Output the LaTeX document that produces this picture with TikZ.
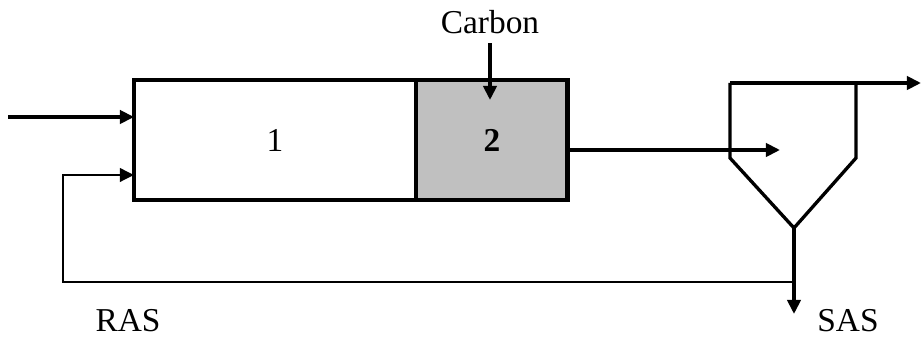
\documentclass[tikz,border=0pt]{standalone}
\usepackage{fontspec}
\setmainfont{Liberation Serif}
\usetikzlibrary{arrows.meta,
positioning}
\definecolor{anoxic}{HTML}{C0C0C0}

\begin{document}
\begin{tikzpicture}[
  x=0.02cm, y=-0.02cm,
  every node/.style={font=\fontsize{19}{22}\selectfont},
  flow/.style={line width=2pt, -{Triangle[length=8pt,width=7.5pt]}},
  tank/.style={draw, line width=2.8pt, outer sep=0pt, minimum height=2.4cm}
]
  \useasboundingbox (0,0) rectangle (921,340);

  \node [
    tank,
    minimum width = 5.64cm] (zone1) at (275,140) {1};
  \node [
    tank,
    fill=anoxic,
    minimum width = 3.04cm,
    anchor = west
  ] (zone2) at (zone1.east) {\textbf{2}};

  % settler
  \coordinate (st_tl) at (730,83);
  \coordinate (st_tr) at (856,83);
  \coordinate (st_bl) at (730,158);
  \coordinate (st_br) at (856,158);
  \coordinate (st_apex) at (794,228);
  \draw [line width=1.9pt, line join=miter] (st_tl) -- (st_bl) -- (st_apex) -- (st_br) -- (st_tr);

  \coordinate (feed) at (8,117);
  \coordinate (ras) at (63,175);
  \coordinate (split) at (794,282);
  \coordinate (inlet) at (780,150);
  \coordinate (effluent) at (921,83);
  \coordinate (waste) at (794,314);
  \coordinate (dose) at (490,100);

  \node (carbon) at (490,22) {Carbon};
  \node (ras_lb) at (128,321) {RAS};
  \node (sas_lb) at (848,321) {SAS};

  \draw [flow] (feed) -- (feed -| zone1.west);
  \draw [flow, line width=1.7pt] (split) -| (ras) -- (ras -| zone1.west);
  \draw [flow] ([yshift=-2pt]carbon.south) -- (dose);
  \draw [flow] (inlet -| zone2.east) -- (inlet);
  \draw [flow] (st_tl) -- (effluent);
  \draw [flow] (st_apex) -- (waste);

\end{tikzpicture}
\end{document}
